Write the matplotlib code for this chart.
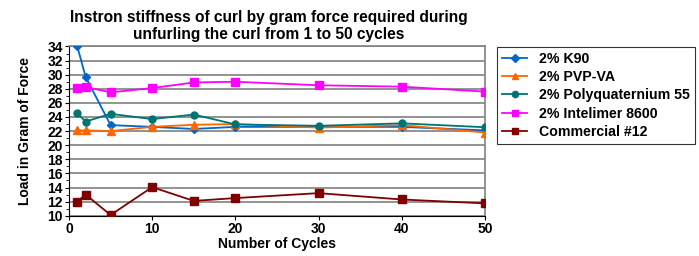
import matplotlib
matplotlib.use("Agg")
import matplotlib.pyplot as plt
from matplotlib.ticker import MultipleLocator

plt.rcParams['font.family'] = ['Liberation Sans', 'DejaVu Sans']
plt.rcParams['font.weight'] = 'bold'

cycles = [1, 2, 5, 10, 15, 20, 30, 40, 50]
k90 = [34.0, 29.7, 22.85, 22.6, 22.3, 22.6, 22.6, 22.6, 22.1]
pvp_va = [22.1, 22.1, 22.0, 22.6, 22.9, 23.0, 22.5, 22.85, 21.8]
polyquat = [24.5, 23.35, 24.45, 23.7, 24.35, 22.95, 22.75, 23.1, 22.55]
intelimer = [28.1, 28.25, 27.5, 28.1, 28.9, 29.0, 28.5, 28.3, 27.6]
commercial = [12.0, 13.0, 10.1, 14.05, 12.1, 12.5, 13.2, 12.3, 11.75]

series = [
    ("2% K90", k90, "#0066CC", "D", 4),
    ("2% PVP-VA", pvp_va, "#FF6600", "^", 6),
    ("2% Polyquaternium 55", polyquat, "#007373", "o", 5),
    ("2% Intelimer 8600", intelimer, "#FF00FF", "s", 5.5),
    ("Commercial #12", commercial, "#800000", "s", 5.5),
]

fig = plt.figure(figsize=(6.99, 2.56), dpi=100)
ax = fig.add_axes([0.0987, 0.1574, 0.595, 0.661])

for name, vals, color, marker, ms in series:
    ax.plot(cycles, vals, color=color, marker=marker, markersize=ms,
            linewidth=1.3, label=name, zorder=3)

ax.set_xlim(0, 50)
ax.set_ylim(10, 34)
ax.xaxis.set_major_locator(MultipleLocator(10))
ax.yaxis.set_major_locator(MultipleLocator(2))
ax.yaxis.set_minor_locator(MultipleLocator(1))
ax.grid(axis='y', which='major', color='#808080', linewidth=1.2, zorder=1)
ax.tick_params(axis='both', which='major', labelsize=10, length=3, width=0.8, pad=1.5)
ax.tick_params(axis='y', which='minor', length=2, width=0.6)
for lbl in ax.get_xticklabels() + ax.get_yticklabels():
    lbl.set_fontweight('bold')

for side in ['top', 'right']:
    ax.spines[side].set_color('#808080')
    ax.spines[side].set_linewidth(1.2)
for side in ['left', 'bottom']:
    ax.spines[side].set_color('#000000')
    ax.spines[side].set_linewidth(0.8)

ax.set_xlabel("Number of Cycles", fontsize=10, fontweight='bold', labelpad=1)
ax.set_ylabel("Load in Gram of Force", fontsize=10, fontweight='bold', labelpad=11)
fig.text(0.384, 0.962, "Instron stiffness of curl by gram force required during\nunfurling the curl from 1 to 50 cycles",
         ha='center', va='top', fontsize=11.2, fontweight='bold', linespacing=1.15)

leg = fig.legend(loc='upper left', bbox_to_anchor=(0.711, 0.817), frameon=True,
                 prop={'weight': 'bold', 'size': 10.2}, fancybox=False,
                 edgecolor='black', handlelength=1.8, borderpad=0.35, labelspacing=0.3,
                 handletextpad=0.8, borderaxespad=0)
leg.get_frame().set_linewidth(0.8)
for h in leg.legend_handles:
    h.set_markersize(4.5)

fig.savefig("out.png", dpi=100)
